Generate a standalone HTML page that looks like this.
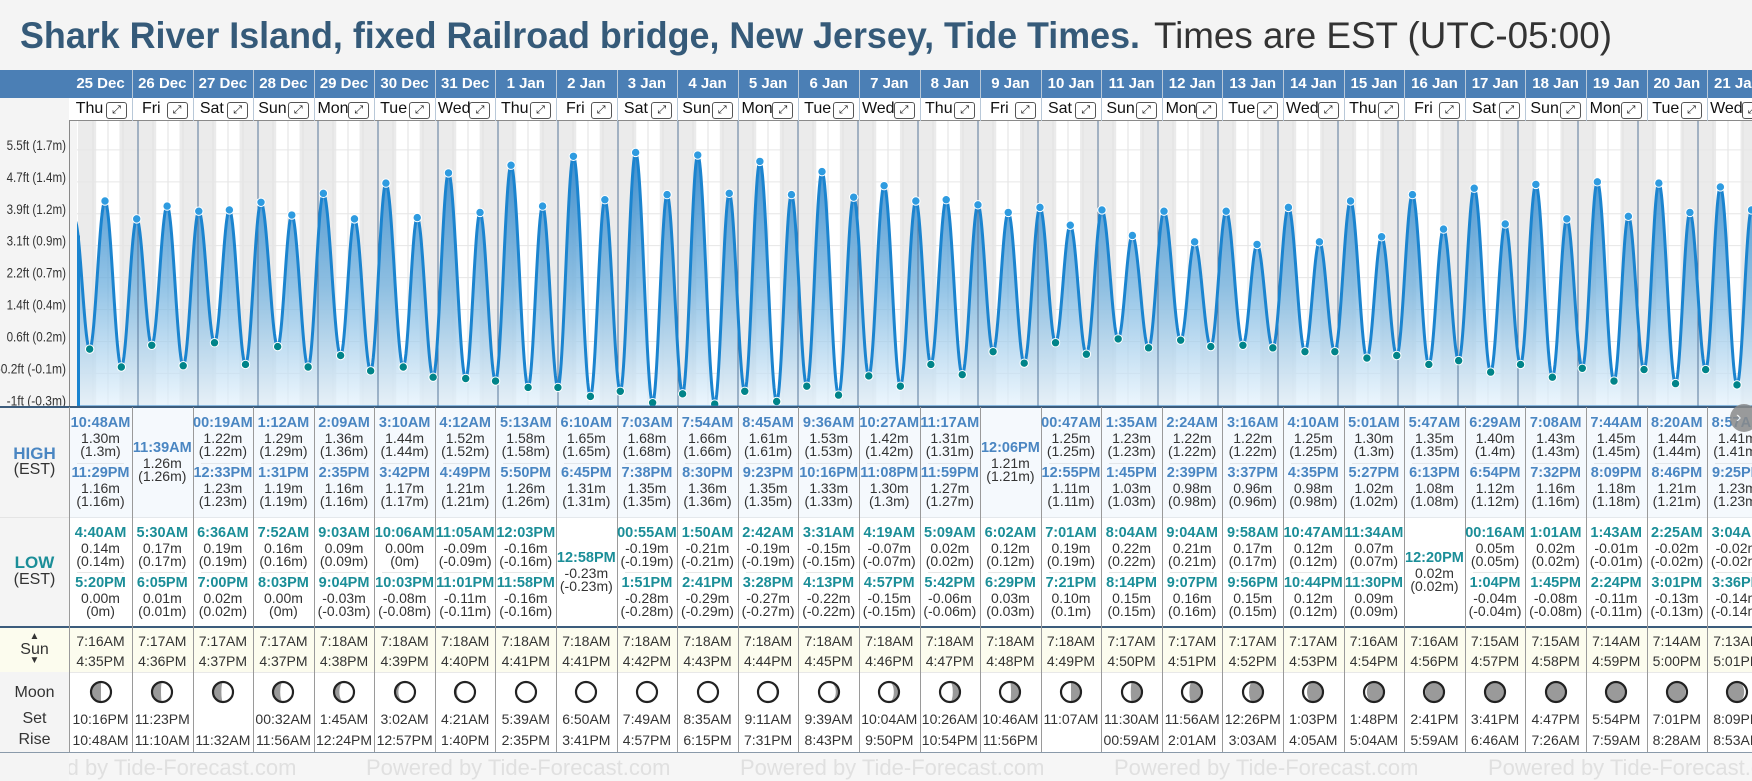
<!DOCTYPE html>
<html><head><meta charset="utf-8">
<style>
html,body{margin:0;padding:0;background:#f4f4f4;}
#root{position:relative;width:1752px;height:781px;overflow:hidden;background:#f4f4f4;font-family:"Liberation Sans",sans-serif;color:#333;}
.abs{position:absolute;}
.c{position:absolute;text-align:center;white-space:nowrap;height:16px;line-height:16px;font-size:14px;}
.tm{font-weight:bold;font-size:14.5px;}
.hi{color:#4a86c2;}
.lo{color:#1b8e98;}
</style></head>
<body>
<div id="root">
<svg class="abs" style="left:0;top:0" width="1752" height="70">
<text x="20" y="48" font-family="Liberation Sans, sans-serif" font-weight="bold" font-size="37" fill="#355a79" textLength="1120" lengthAdjust="spacingAndGlyphs">Shark River Island, fixed Railroad bridge, New Jersey, Tide Times.</text>
<text x="1154" y="48" font-family="Liberation Sans, sans-serif" font-size="37" fill="#333" textLength="458" lengthAdjust="spacingAndGlyphs">Times are EST (UTC-05:00)</text>
</svg>
<div id="hdr" class="abs" style="left:0;top:70px;width:1752px;height:28px;background:#4b7fb5"></div>
<div class="abs" style="left:0;top:98px;width:1752px;height:23px;background:#fff;border-bottom:1px solid #8a8a8a;box-sizing:border-box"></div>
<div class="abs" style="left:0;top:98px;width:69px;height:23px;background:#f4f4f4"></div>
<svg id="chart" class="abs" style="left:0;top:0" width="1752" height="781"></svg>
<div id="tbl" class="abs" style="left:0;top:0;width:1752px;height:781px"></div>
</div>
<script>
const dates=["25 Dec","26 Dec","27 Dec","28 Dec","29 Dec","30 Dec","31 Dec","1 Jan","2 Jan","3 Jan","4 Jan","5 Jan","6 Jan","7 Jan","8 Jan","9 Jan","10 Jan","11 Jan","12 Jan","13 Jan","14 Jan","15 Jan","16 Jan","17 Jan","18 Jan","19 Jan","20 Jan","21 Jan"];
const weekdays=["Thu","Fri","Sat","Sun","Mon","Tue","Wed","Thu","Fri","Sat","Sun","Mon","Tue","Wed","Thu","Fri","Sat","Sun","Mon","Tue","Wed","Thu","Fri","Sat","Sun","Mon","Tue","Wed"];
const highTimes=[["10:48AM","11:29PM"],["11:39AM"],["00:19AM","12:33PM"],["1:12AM","1:31PM"],["2:09AM","2:35PM"],["3:10AM","3:42PM"],["4:12AM","4:49PM"],["5:13AM","5:50PM"],["6:10AM","6:45PM"],["7:03AM","7:38PM"],["7:54AM","8:30PM"],["8:45AM","9:23PM"],["9:36AM","10:16PM"],["10:27AM","11:08PM"],["11:17AM","11:59PM"],["12:06PM"],["00:47AM","12:55PM"],["1:35AM","1:45PM"],["2:24AM","2:39PM"],["3:16AM","3:37PM"],["4:10AM","4:35PM"],["5:01AM","5:27PM"],["5:47AM","6:13PM"],["6:29AM","6:54PM"],["7:08AM","7:32PM"],["7:44AM","8:09PM"],["8:20AM","8:46PM"],["8:57AM","9:25PM"]];
const highVals=[[1.30,1.16],[1.26],[1.22,1.23],[1.29,1.19],[1.36,1.16],[1.44,1.17],[1.52,1.21],[1.58,1.26],[1.65,1.31],[1.68,1.35],[1.66,1.36],[1.61,1.35],[1.53,1.33],[1.42,1.30],[1.31,1.27],[1.21],[1.25,1.11],[1.23,1.03],[1.22,0.98],[1.22,0.96],[1.25,0.98],[1.30,1.02],[1.35,1.08],[1.40,1.12],[1.43,1.16],[1.45,1.18],[1.44,1.21],[1.41,1.23]];
const lowTimes=[["4:40AM","5:20PM"],["5:30AM","6:05PM"],["6:36AM","7:00PM"],["7:52AM","8:03PM"],["9:03AM","9:04PM"],["10:06AM","10:03PM"],["11:05AM","11:01PM"],["12:03PM","11:58PM"],["12:58PM"],["00:55AM","1:51PM"],["1:50AM","2:41PM"],["2:42AM","3:28PM"],["3:31AM","4:13PM"],["4:19AM","4:57PM"],["5:09AM","5:42PM"],["6:02AM","6:29PM"],["7:01AM","7:21PM"],["8:04AM","8:14PM"],["9:04AM","9:07PM"],["9:58AM","9:56PM"],["10:47AM","10:44PM"],["11:34AM","11:30PM"],["12:20PM"],["00:16AM","1:04PM"],["1:01AM","1:45PM"],["1:43AM","2:24PM"],["2:25AM","3:01PM"],["3:04AM","3:36PM"]];
const lowVals=[[0.14,0.00],[0.17,0.01],[0.19,0.02],[0.16,0.00],[0.09,-0.03],[0.00,-0.08],[-0.09,-0.11],[-0.16,-0.16],[-0.23],[-0.19,-0.28],[-0.21,-0.29],[-0.19,-0.27],[-0.15,-0.22],[-0.07,-0.15],[0.02,-0.06],[0.12,0.03],[0.19,0.10],[0.22,0.15],[0.21,0.16],[0.17,0.15],[0.12,0.12],[0.07,0.09],[0.02],[0.05,-0.04],[0.02,-0.08],[-0.01,-0.11],[-0.02,-0.13],[-0.02,-0.14]];
const sunrise=["7:16AM","7:17AM","7:17AM","7:17AM","7:18AM","7:18AM","7:18AM","7:18AM","7:18AM","7:18AM","7:18AM","7:18AM","7:18AM","7:18AM","7:18AM","7:18AM","7:18AM","7:17AM","7:17AM","7:17AM","7:17AM","7:16AM","7:16AM","7:15AM","7:15AM","7:14AM","7:14AM","7:13AM"];
const sunset=["4:35PM","4:36PM","4:37PM","4:37PM","4:38PM","4:39PM","4:40PM","4:41PM","4:41PM","4:42PM","4:43PM","4:44PM","4:45PM","4:46PM","4:47PM","4:48PM","4:49PM","4:50PM","4:51PM","4:52PM","4:53PM","4:54PM","4:56PM","4:57PM","4:58PM","4:59PM","5:00PM","5:01PM"];
const moonSet=["10:16PM","11:23PM","","00:32AM","1:45AM","3:02AM","4:21AM","5:39AM","6:50AM","7:49AM","8:35AM","9:11AM","9:39AM","10:04AM","10:26AM","10:46AM","11:07AM","11:30AM","11:56AM","12:26PM","1:03PM","1:48PM","2:41PM","3:41PM","4:47PM","5:54PM","7:01PM","8:09PM"];
const moonRise=["10:48AM","11:10AM","11:32AM","11:56AM","12:24PM","12:57PM","1:40PM","2:35PM","3:41PM","4:57PM","6:15PM","7:31PM","8:43PM","9:50PM","10:54PM","11:56PM","","00:59AM","2:01AM","3:03AM","4:05AM","5:04AM","5:59AM","6:46AM","7:26AM","7:59AM","8:28AM","8:53AM"];
const moonDark=[0.5,0.45,0.42,0.36,0.27,0.17,0.1,0.05,0,0,0.04,0.08,0.16,0.26,0.36,0.45,0.5,0.56,0.63,0.7,0.8,0.86,0.93,1,1,0.97,0.93,0.86];
const moonSide=["L","L","L","L","L","L","L","L","L","R","R","R","R","R","R","R","R","R","R","R","R","R","R","R","R","L","L","L"];
const tickMeters=[-0.3,-0.05,0.2,0.45,0.7,0.95,1.2,1.45,1.7,1.95];
const tickLabels=["-1ft (-0.3m)","-0.2ft (-0.1m)","0.6ft (0.2m)","1.4ft (0.4m)","2.2ft (0.7m)","3.1ft (0.9m)","3.9ft (1.2m)","4.7ft (1.4m)","5.5ft (1.7m)","6.3ft (1.9m)"];

const NS="http://www.w3.org/2000/svg";
const svg=document.getElementById('chart');
const tbl=document.getElementById('tbl');
const CT=121,CB=406,CL=78;
function xT(t){return CL+t*60;}
function yV(v){return 367-v*127.7;}
function hours(s){const m=s.match(/(\d+):(\d+)(AM|PM)/);let h=(+m[1])%12;if(m[3]==="PM")h+=12;return h+(+m[2])/60;}
function colL(k){return k===0?69:132+(k-1)*60.58;}
function colR(k){return colL(k+1);}
function mk(tag,attrs,parent){const e=document.createElementNS(NS,tag);for(const a in attrs)e.setAttribute(a,attrs[a]);(parent||svg).appendChild(e);return e;}
function fmtM(v){return v.toFixed(2)+"m";}
function fmtP(v){return "("+String(parseFloat(v.toFixed(2)))+"m)";}

const defs=mk('defs',{});
const cp=mk('clipPath',{id:'cclip'},defs);mk('rect',{x:77,y:CT,width:1752-77,height:CB-CT},cp);
const lc=mk('clipPath',{id:'lclip'},defs);mk('rect',{x:0,y:CT,width:69,height:CB-CT+2},lc);
const gr=mk('linearGradient',{id:'ag',x1:0,y1:140,x2:0,y2:CB,gradientUnits:'userSpaceOnUse'},defs);
mk('stop',{offset:'0','stop-color':'#2a82c8','stop-opacity':'0.95'},gr);
mk('stop',{offset:'0.55','stop-color':'#6fb0de','stop-opacity':'0.75'},gr);
mk('stop',{offset:'1','stop-color':'#e4f2fc','stop-opacity':'0.7'},gr);

const g=mk('g',{'clip-path':'url(#cclip)'});


const bg=mk('rect',{x:77,y:CT,width:1752-77,height:CB-CT,fill:'#fff'},g);


for(let d=0;d<=dates.length;d++){
  const s=d===0?0:(d-1)+hours(sunset[d-1])/24;
  const e=d<dates.length?d+hours(sunrise[d])/24:d+0.3;
  const r=mk('rect',{x:xT(s),y:CT,width:xT(e)-xT(s),height:CB-CT,fill:'#ebebeb'},g);
  
  
}
for(let q=1;q<dates.length*4+2;q++){if(q%4===0)continue;
  const l=mk('line',{x1:xT(q/4),x2:xT(q/4),y1:CT,y2:CB,stroke:'#e2e2e2','stroke-width':1},g);
  
  
}
tickMeters.forEach(m=>{const l=mk('line',{x1:77,x2:1752,y1:yV(m),y2:yV(m),stroke:'#e6e6e6','stroke-width':1},g);
  
  });
let pts=[{t:-1.33/24,v:1.15,k:'H',virt:true}];
for(let d=0;d<dates.length;d++){
  highTimes[d].forEach((s,i)=>pts.push({t:d+hours(s)/24,v:highVals[d][i],k:'H'}));
  lowTimes[d].forEach((s,i)=>pts.push({t:d+hours(s)/24,v:lowVals[d][i],k:'L'}));
}
pts.sort((a,b)=>a.t-b.t);
pts.push({t:pts[pts.length-1].t+0.26,v:-0.05,k:'L',virt:true});
let line="";
for(let i=0;i<pts.length-1;i++){
  const a=pts[i],b=pts[i+1];const x0=xT(a.t),x1=xT(b.t);const n=Math.max(4,Math.ceil((x1-x0)*1.5));
  for(let j=(i===0?0:1);j<=n;j++){const f=j/n;const v=a.v+(b.v-a.v)*(1-Math.cos(Math.PI*f))/2;
    line+=(line?"L":"M")+(x0+(x1-x0)*f).toFixed(2)+","+yV(v).toFixed(2);}
}
const x0=xT(pts[0].t),xe=xT(pts[pts.length-1].t);
const area=mk('path',{d:line+"L"+xe+","+CB+"L"+x0+","+CB+"Z",fill:'url(#ag)'},g);


for(let d=1;d<=dates.length;d++){const l=mk('line',{x1:xT(d),x2:xT(d),y1:CT,y2:CB,stroke:'#58779a','stroke-width':1},g);
  
  }
const ln=mk('path',{d:line,fill:'none',stroke:'#1b84cf','stroke-width':3,'stroke-linejoin':'round'},g);


const edge=mk('line',{x1:78.5,x2:78.5,y1:yV(1.03),y2:CB,stroke:'#1b84cf','stroke-width':3},g);


pts.forEach(p=>{if(p.virt)return;
  const c=mk('circle',{cx:xT(p.t),cy:yV(p.v),r:4.2,fill:p.k==='H'?'#2e9be0':'#008489',stroke:'#fff','stroke-width':1},g);
  
  
});
const bl=mk('line',{x1:77,x2:1752,y1:CB+0.5,y2:CB+0.5,stroke:'#2c7fc4','stroke-width':2});


const yl=mk('g',{'clip-path':'url(#lclip)'});
tickMeters.forEach((m,i)=>{const lbl=tickLabels[i];
  const t=mk('text',{x:66,y:yV(m),'text-anchor':'end','font-size':14,fill:'#333','font-family':'Liberation Sans, sans-serif',textLength:(lbl.length*4.95).toFixed(1),lengthAdjust:'spacingAndGlyphs'},yl);
  t.textContent=lbl;
  
  });
const yb=mk('line',{x1:69.5,x2:69.5,y1:CT,y2:CB+2,stroke:'#888','stroke-width':1});



function div(cls,style,text,parent){const e=document.createElement('div');e.className=cls;e.style.cssText=style;if(text!==undefined)e.textContent=text;(parent||tbl).appendChild(e);return e;}
let e;
e=div('abs','left:69px;top:407px;width:1683px;height:110px;background:#f5f9fd');
e=div('abs','left:69px;top:517px;width:1683px;height:110px;background:#fff;border-top:1px solid #e4e8ec');
e=div('abs','left:0;top:627px;width:1752px;height:45px;background:#fcfcee');
e=div('abs','left:69px;top:672px;width:1683px;height:80px;background:#fff;border-top:1px solid #e8e8e8');
e=div('abs','left:0;top:406px;width:1752px;height:2px;background:#3c5c7c');
e=div('abs','left:0;top:626px;width:1752px;height:2px;background:#3c5c7c');
e=div('abs','left:0;top:752px;width:1752px;height:1px;background:#8a9aaa');
e=div('abs','left:0;top:517px;width:69px;height:1px;background:#e4e4e4');
function lab(text,top,cls,fs){const d=div('c '+(cls||''),'left:0;width:69px;top:'+(top-8)+'px;font-size:'+(fs||16)+'px;',text);return d;}
e=lab('HIGH',454,'tm hi',17);e.style.fontWeight='bold';
e=lab('(EST)',470,'',16);
e=lab('LOW',563,'tm lo',17);e.style.fontWeight='bold';
e=lab('(EST)',580,'',16);
e=lab('▲',637,'',10);
e=lab('Sun',650,'',16);
e=lab('▼',661,'',10);
e=lab('Moon',693,'',16);
e=lab('Set',719,'',16);
e=lab('Rise',740,'',16);
e=div('abs','left:69px;top:407px;width:1px;height:345px;background:#9a9a9a');

function entry(L,W,top,t,v,cls,nm){
  let d=div('c tm '+cls,'left:'+L+'px;width:'+W+'px;top:'+(top-8)+'px',t);
  d=div('c','left:'+L+'px;width:'+W+'px;top:'+(top+7)+'px',fmtM(v));
  d=div('c','left:'+L+'px;width:'+W+'px;top:'+(top+20)+'px',fmtP(v));
}
function moonSvg(dark,side,L,W){
  const s=document.createElementNS(NS,'svg');s.setAttribute('width',24);s.setAttribute('height',24);
  s.setAttribute('class','abs');s.style.left=(L+W/2-12)+'px';s.style.top='680px';
  
  
  const r=10,cx=12,cy=12;
  mk('circle',{cx:cx,cy:cy,r:r,fill:'#fff'},s);
  if(dark>0.01){
    let d;
    if(dark>=0.99){d=`M${cx},${cy-r}A${r},${r} 0 1 1 ${cx},${cy+r}A${r},${r} 0 1 1 ${cx},${cy-r}Z`;}
    else{
      const sw=side==='L'?0:1;
      const rx=Math.abs(1-2*dark)*r;
      const inner=dark<0.5?(side==='L'?1:0):(side==='L'?0:1);
      d=`M${cx},${cy-r}A${r},${r} 0 0 ${sw} ${cx},${cy+r}A${rx},${r} 0 0 ${inner} ${cx},${cy-r}Z`;
    }
    mk('path',{d:d,fill:'#9a9a9a'},s);
  }
  mk('circle',{cx:cx,cy:cy,r:r,fill:'none',stroke:'#222','stroke-width':2.2},s);
  tbl.appendChild(s);
}
for(let k=0;k<dates.length;k++){
  const L=colL(k),R=colR(k),W=R-L;
  let d=div('c','left:'+L+'px;width:'+W+'px;top:76px;color:#fff;font-weight:bold;font-size:15px',dates[k]);
  
  
  if(k>0){d=div('abs','left:'+L+'px;top:70px;width:1px;height:51px;background:#b8c8d8');}
  d=div('c','left:'+(L+3)+'px;width:'+(W-28)+'px;top:101px;font-size:16px;color:#111',weekdays[k]);
  
  
  d=div('abs','left:'+(R-26)+'px;top:102px;width:19px;height:15px;border:1px solid #555;border-radius:3px;background:#fff;font-size:11px;line-height:15px;text-align:center;color:#111','⤢');
  
  
  if(k>0){d=div('abs','left:'+L+'px;top:407px;width:1px;height:345px;background:#9a9a9a');}
  if(highTimes[k].length===2){
    entry(L,W,423,highTimes[k][0],highVals[k][0],'hi','high-tide');
    d=div('abs','left:'+(L+8)+'px;top:463px;width:'+(W-16)+'px;height:1px;background:#e2e6ea');
    entry(L,W,473,highTimes[k][1],highVals[k][1],'hi','high-tide');
  } else entry(L,W,448,highTimes[k][0],highVals[k][0],'hi','high-tide');
  if(lowTimes[k].length===2){
    entry(L,W,533,lowTimes[k][0],lowVals[k][0],'lo','low-tide');
    d=div('abs','left:'+(L+8)+'px;top:572px;width:'+(W-16)+'px;height:1px;background:#e6e6e6');
    entry(L,W,583,lowTimes[k][1],lowVals[k][1],'lo','low-tide');
  } else entry(L,W,558,lowTimes[k][0],lowVals[k][0],'lo','low-tide');
  d=div('c','left:'+L+'px;width:'+W+'px;top:633px;font-size:14px',sunrise[k]);
  d=div('c','left:'+L+'px;width:'+W+'px;top:653px;font-size:14px',sunset[k]);
  moonSvg(moonDark[k],moonSide[k],L,W);
  d=div('c','left:'+L+'px;width:'+W+'px;top:711px;font-size:14px',moonSet[k]);
  d=div('c','left:'+L+'px;width:'+W+'px;top:732px;font-size:14px',moonRise[k]);
}
const ft=div('abs','left:69px;top:753px;width:1683px;height:28px;overflow:hidden;background:#f6f6f6');


for(let i=0;i<6;i++){const w=div('abs','left:'+(-77+i*374)+'px;top:2px;font-size:22px;color:#e0e0e0;white-space:nowrap','Powered by Tide-Forecast.com',ft);
  
  }
const sb=div('abs','left:1730px;top:404px;width:28px;height:28px;border-radius:50%;background:#8a8a8a;opacity:0.85;color:#fff;font-size:16px;line-height:28px;text-indent:6px','›');


</script>
</body></html>
